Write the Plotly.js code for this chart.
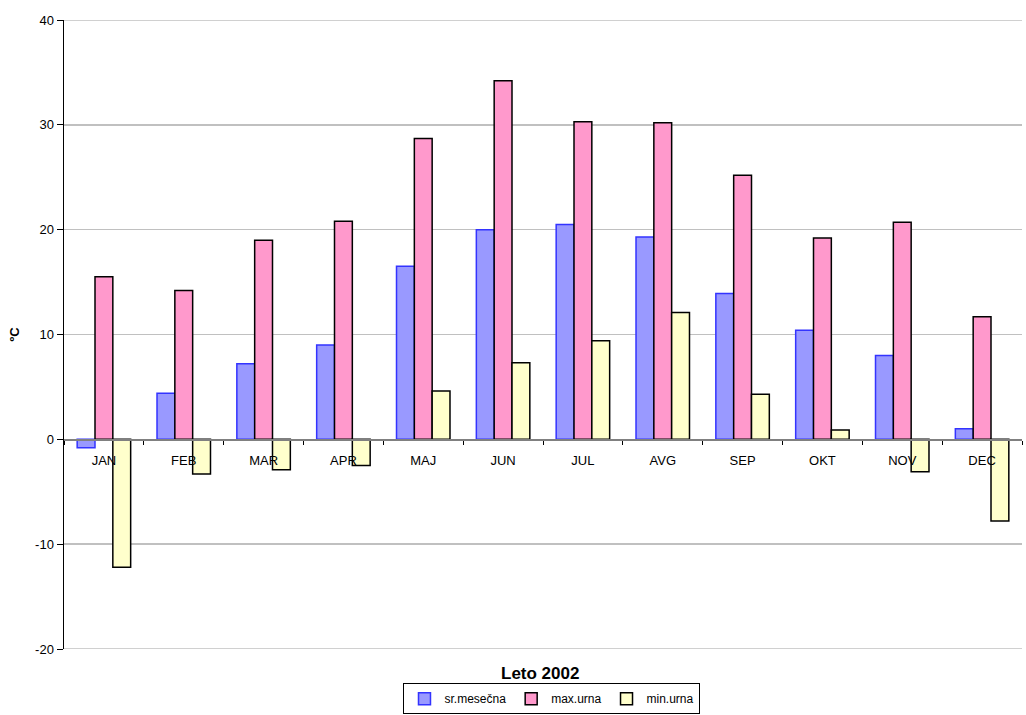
<!DOCTYPE html>
<html>
<head>
<meta charset="utf-8">
<script src="https://cdn.plot.ly/plotly-3.0.1.min.js"></script>
<style>html,body{margin:0;padding:0;background:#fff;}#chart{width:1026px;height:715px;}</style>
</head>
<body>
<div id="chart"></div>
<script>
const months = ['JAN','FEB','MAR','APR','MAJ','JUN','JUL','AVG','SEP','OKT','NOV','DEC'];
const srMesecna = [-0.8, 4.4, 7.2, 9.0, 16.5, 20.0, 20.5, 19.3, 13.9, 10.4, 8.0, 1.0];
const maxUrna = [15.5, 14.2, 19.0, 20.8, 28.7, 34.2, 30.3, 30.2, 25.2, 19.2, 20.7, 11.7];
const minUrna = [-12.2, -3.3, -2.9, -2.5, 4.6, 7.3, 9.4, 12.1, 4.3, 0.9, -3.1, -7.8];
const seriesNames = ['sr.mesečna', 'max.urna', 'min.urna'];
const yTicks = [-20, -10, 0, 10, 20, 30, 40];
const yMin = -20, yMax = 40;

const traces = [
  {type:'bar', name:seriesNames[0], x:months, y:srMesecna,
   marker:{color:'#9999FF', line:{color:'#3333FF', width:1.5}}},
  {type:'bar', name:seriesNames[1], x:months, y:maxUrna,
   marker:{color:'#FF99CC', line:{color:'#000000', width:1.5}}},
  {type:'bar', name:seriesNames[2], x:months, y:minUrna,
   marker:{color:'#FFFFCC', line:{color:'#000000', width:1.5}}}
];

const edgeLine = v => ({type:'line', xref:'paper', yref:'y', x0:0, x1:1, y0:v, y1:v,
  line:{color:'#C0C0C0', width:1.5}, layer:'below'});

const layout = {
  width:1026, height:715,
  margin:{l:64, r:4, t:20, b:66},
  paper_bgcolor:'#fff', plot_bgcolor:'#fff',
  font:{family:'Liberation Sans, Arial, sans-serif', size:13, color:'#000'},
  barmode:'group', bargap:0.33, bargroupgap:0,
  showlegend:true,
  legend:{orientation:'h', xref:'container', yref:'container', x:0.538, xanchor:'center',
    y:0.001, yanchor:'bottom',
    bordercolor:'#000', borderwidth:1, font:{size:12}, itemwidth:30,
    traceorder:'normal', bgcolor:'#fff', tracegroupgap:0},
  xaxis:{type:'category', anchor:'free', position:(0 - yMin)/(yMax - yMin),
    showline:true, linecolor:'#808080', linewidth:1.5,
    ticks:'outside', tickson:'boundaries', ticklen:4, tickcolor:'#000', tickwidth:1,
    showgrid:false, zeroline:false, tickfont:{size:13}, ticklabelstandoff:9},
  yaxis:{range:[yMin, yMax], tickvals:yTicks, ticktext:yTicks.map(String),
    showline:true, linecolor:'#000', linewidth:1.5,
    ticks:'outside', ticklen:6, tickcolor:'#000',
    showgrid:true, gridcolor:'#C0C0C0', gridwidth:1.5, zeroline:false,
    tickfont:{size:13},
    title:{text:'ºC', font:{size:13, weight:'bold'}, standoff:12}},
  shapes:[edgeLine(yMax), edgeLine(yMin)],
  annotations:[
    {text:'<b>Leto 2002</b>', xref:'paper', yref:'paper', x:0.497, y:-0.02,
     xanchor:'center', yanchor:'top', showarrow:false, font:{size:17}}
  ]
};

Plotly.newPlot('chart', traces, layout, {staticPlot:true});
</script>
</body>
</html>
